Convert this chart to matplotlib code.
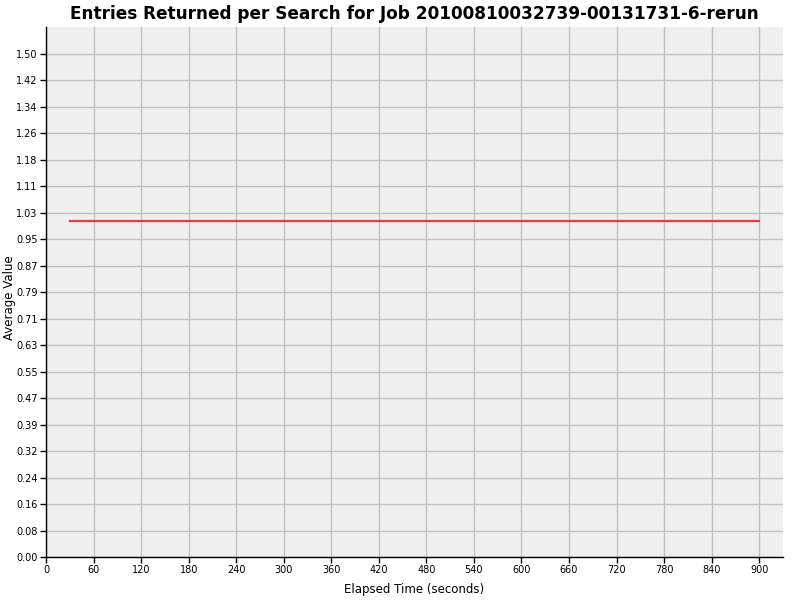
import matplotlib
matplotlib.use("Agg")
import matplotlib.pyplot as plt
from matplotlib.ticker import FixedLocator, FormatStrFormatter

TITLE = "Entries Returned per Search for Job 20100810032739-00131731-6-rerun"

elapsed = [30, 60, 90, 120, 150, 180, 210, 240, 270, 300, 330, 360, 390, 420, 450,
           480, 510, 540, 570, 600, 630, 660, 690, 720, 750, 780, 810, 840, 870, 900]
avg_value = [1.0, 1.0, 1.0, 1.0, 1.0, 1.0, 1.0, 1.0, 1.0, 1.0, 1.0, 1.0, 1.0, 1.0, 1.0,
             1.0, 1.0, 1.0, 1.0, 1.0, 1.0, 1.0, 1.0, 1.0, 1.0, 1.0, 1.0, 1.0, 1.0, 1.0]

x_ticks = [0, 60, 120, 180, 240, 300, 360, 420, 480, 540, 600, 660, 720, 780, 840, 900]
y_ticks = [i * 1.5 / 19 for i in range(20)]


def main():
    fig = plt.figure(figsize=(8, 6), dpi=100)
    ax = fig.add_axes([46 / 800, 43 / 600, 737 / 800, 530 / 600])
    ax.set_facecolor("#efefef")

    ax.plot(elapsed, avg_value, color="#ff3333", linewidth=1.6, zorder=3)

    ax.set_xlim(0, 930)
    ax.set_ylim(0, 1.579)
    ax.xaxis.set_major_locator(FixedLocator(x_ticks))
    ax.yaxis.set_major_locator(FixedLocator(y_ticks))
    ax.yaxis.set_major_formatter(FormatStrFormatter("%.2f"))
    ax.grid(True, color="#c0c0c0", linewidth=1.0, zorder=0)
    ax.set_axisbelow(True)

    for side in ("top", "right"):
        ax.spines[side].set_visible(False)
    for side in ("left", "bottom"):
        ax.spines[side].set_color("#000000")
        ax.spines[side].set_linewidth(1.0)
    ax.tick_params(axis="both", direction="out", length=4, width=1,
                   labelsize=7, colors="#000000", pad=2)

    fig.text(414 / 800, 1 - 590 / 600, "Elapsed Time (seconds)", ha="center",
             va="center", fontsize=8.5)
    fig.text(10 / 800, 1 - 298 / 600, "Average Value", ha="center", va="center",
             rotation=90, fontsize=8.5)
    fig.text(414 / 800, 1 - 14 / 600, TITLE, ha="center", va="center",
             fontsize=12.2, fontweight="bold")

    fig.savefig("out.png", dpi=100, facecolor="white")
    plt.close(fig)


if __name__ == "__main__":
    main()
